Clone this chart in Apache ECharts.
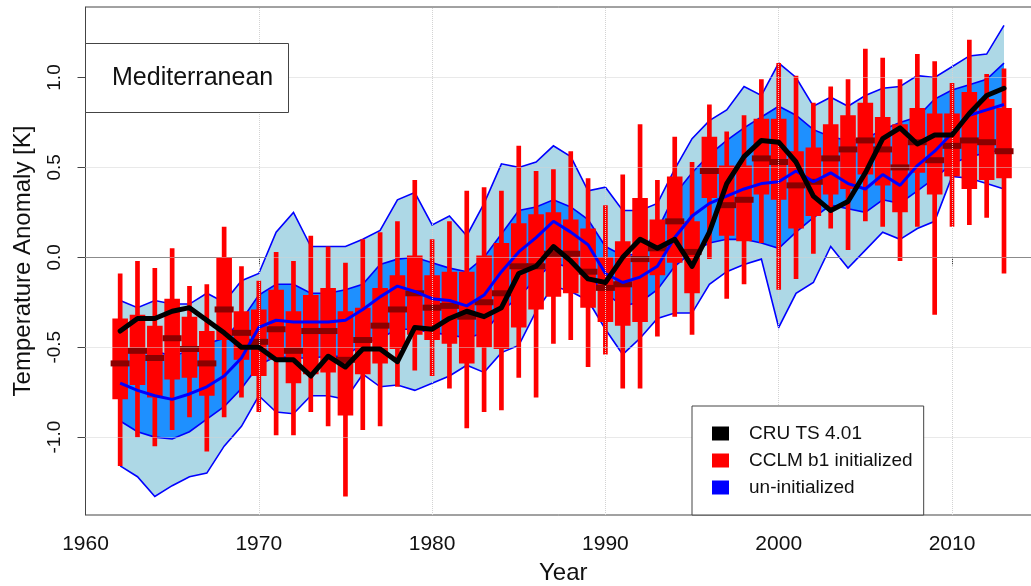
<!DOCTYPE html>
<html><head><meta charset="utf-8">
<script src="https://cdn.jsdelivr.net/npm/echarts@6.0.0/dist/echarts.min.js"></script>
<style>html,body{margin:0;padding:0;background:#fff}#c{width:1031px;height:586px}</style>
</head><body><div id="c"></div>
<script>
// ---- data ----
const years = [
  1962,1963,1964,1965,1966,1967,1968,1969,1970,1971,
  1972,1973,1974,1975,1976,1977,1978,1979,1980,1981,
  1982,1983,1984,1985,1986,1987,1988,1989,1990,1991,
  1992,1993,1994,1995,1996,1997,1998,1999,2000,2001,
  2002,2003,2004,2005,2006,2007,2008,2009,2010,2011,
  2012,2013];
const cruValues = [
  -0.41,-0.34,-0.34,-0.30,-0.28,-0.35,-0.42,-0.50,-0.50,-0.57,
  -0.57,-0.66,-0.55,-0.61,-0.51,-0.51,-0.58,-0.39,-0.40,-0.34,
  -0.30,-0.33,-0.28,-0.09,-0.05,0.06,-0.02,-0.12,-0.14,0.00,
  0.10,0.05,0.10,-0.05,0.14,0.41,0.56,0.65,0.64,0.53,
  0.34,0.26,0.31,0.47,0.66,0.72,0.63,0.68,0.68,0.80,
  0.90,0.94];
const boxLow = [
  -1.16,-1.00,-1.05,-0.96,-0.89,-1.08,-0.89,-0.78,-0.86,-0.99,
  -0.99,-0.86,-0.94,-1.33,-0.96,-0.94,-0.72,-0.63,-0.66,-0.73,
  -0.95,-0.86,-0.85,-0.67,-0.78,-0.48,-0.46,-0.61,-0.54,-0.73,
  -0.73,-0.44,-0.33,-0.43,-0.01,-0.23,-0.15,0.08,-0.18,-0.12,
  0.02,0.16,0.04,0.20,0.17,-0.02,0.17,-0.32,0.17,0.18,
  0.22,-0.09];
const boxQ1 = [
  -0.79,-0.71,-0.78,-0.68,-0.67,-0.77,-0.46,-0.57,-0.66,-0.57,
  -0.70,-0.65,-0.64,-0.88,-0.65,-0.59,-0.51,-0.43,-0.46,-0.48,
  -0.59,-0.50,-0.51,-0.39,-0.29,-0.22,-0.20,-0.28,-0.36,-0.38,
  -0.36,-0.10,-0.03,-0.20,0.33,0.12,0.09,0.35,0.32,0.16,
  0.23,0.35,0.38,0.46,0.40,0.25,0.47,0.35,0.45,0.38,
  0.43,0.44];
const boxMedian = [
  -0.59,-0.52,-0.56,-0.45,-0.51,-0.59,-0.29,-0.42,-0.47,-0.40,
  -0.52,-0.41,-0.41,-0.57,-0.46,-0.38,-0.29,-0.20,-0.28,-0.27,
  -0.33,-0.25,-0.20,-0.05,-0.05,0.02,0.02,-0.08,-0.17,-0.15,
  -0.01,0.05,0.20,0.03,0.48,0.29,0.32,0.55,0.53,0.40,
  0.42,0.55,0.60,0.65,0.60,0.50,0.64,0.54,0.62,0.65,
  0.64,0.59];
const boxQ3 = [
  -0.34,-0.32,-0.38,-0.23,-0.33,-0.41,0.00,-0.30,-0.29,-0.18,
  -0.30,-0.21,-0.17,-0.30,-0.28,-0.17,-0.10,0.01,-0.10,-0.08,
  -0.08,0.01,0.08,0.19,0.24,0.25,0.21,0.16,0.00,0.09,
  0.33,0.21,0.45,0.20,0.67,0.51,0.51,0.77,0.77,0.59,
  0.61,0.74,0.79,0.86,0.78,0.74,0.83,0.80,0.80,0.92,
  0.88,0.83];
const boxHigh = [
  -0.09,-0.02,-0.06,0.05,-0.16,-0.15,0.17,-0.05,-0.13,0.03,
  -0.02,0.12,0.06,-0.03,0.10,0.14,0.20,0.43,0.10,0.20,
  0.37,0.39,0.37,0.62,0.48,0.49,0.59,0.44,0.29,0.46,
  0.74,0.43,0.67,0.53,0.85,0.70,0.79,0.99,1.08,1.01,
  0.86,0.95,0.99,1.16,1.11,0.99,1.13,1.09,0.97,1.21,
  1.02,1.05];
const uninitMedian = [
  -0.70,-0.74,-0.77,-0.79,-0.76,-0.72,-0.66,-0.56,-0.39,-0.35,
  -0.36,-0.36,-0.36,-0.35,-0.29,-0.22,-0.16,-0.19,-0.23,-0.24,
  -0.27,-0.21,-0.08,0.03,0.11,0.20,0.14,0.07,-0.09,-0.14,
  -0.11,-0.05,0.11,0.23,0.30,0.34,0.38,0.41,0.42,0.48,
  0.42,0.47,0.41,0.38,0.46,0.40,0.51,0.59,0.69,0.79,
  0.82,0.85];
const uninitInnerHigh = [
  -0.50,-0.52,-0.52,-0.55,-0.52,-0.48,-0.45,-0.35,-0.21,-0.15,
  -0.15,-0.20,-0.20,-0.18,-0.15,-0.04,-0.01,0.00,-0.03,-0.06,
  -0.08,0.00,0.13,0.26,0.28,0.32,0.28,0.21,0.06,0.01,
  0.02,0.15,0.35,0.47,0.57,0.65,0.72,0.78,0.84,0.79,
  0.71,0.67,0.65,0.66,0.71,0.75,0.78,0.88,0.93,0.96,
  0.99,1.08];
const uninitInnerLow = [
  -0.91,-0.97,-1.00,-1.01,-0.97,-0.90,-0.83,-0.73,-0.60,-0.55,
  -0.56,-0.56,-0.55,-0.55,-0.48,-0.45,-0.40,-0.40,-0.42,-0.43,
  -0.45,-0.42,-0.30,-0.22,-0.12,-0.03,-0.06,-0.10,-0.20,-0.27,
  -0.25,-0.18,-0.05,0.03,0.08,0.10,0.10,0.08,0.05,0.14,
  0.22,0.29,0.27,0.25,0.32,0.30,0.37,0.44,0.52,0.56,
  0.58,0.60];
const uninitOuterHigh = [
  -0.24,-0.28,-0.24,-0.26,-0.26,-0.20,-0.25,-0.13,-0.09,0.14,
  0.25,0.06,0.06,0.06,0.10,0.15,0.32,0.36,0.18,0.23,
  0.12,0.30,0.52,0.50,0.53,0.62,0.56,0.37,0.39,0.26,
  0.26,0.30,0.49,0.66,0.76,0.82,0.95,0.90,1.08,1.00,
  0.84,0.89,0.84,0.90,0.94,0.95,1.01,1.00,1.06,1.12,
  1.13,1.29];
const uninitOuterLow = [
  -1.16,-1.22,-1.33,-1.27,-1.22,-1.20,-1.05,-0.94,-0.77,-0.86,
  -0.87,-0.77,-0.77,-0.79,-0.65,-0.72,-0.71,-0.74,-0.70,-0.66,
  -0.60,-0.64,-0.53,-0.49,-0.30,-0.16,-0.19,-0.24,-0.40,-0.54,
  -0.45,-0.34,-0.31,-0.31,-0.15,-0.08,-0.04,-0.01,-0.39,-0.20,
  -0.14,0.06,-0.06,0.04,0.14,0.10,0.16,0.20,0.45,0.44,
  0.41,0.38];
const xTicks = [1960,1970,1980,1990,2000,2010];
const yTicks = [-1.0,-0.5,0.0,0.5,1.0];
const seriesNames = ['CRU TS 4.01','CCLM b1 initialized','un-initialized'];

// ---- chart ----
const FONT = 'Liberation Sans, Arial, sans-serif';
const chart = echarts.init(document.getElementById('c'), null, {renderer:'canvas'});

function bandSeries(low, high, fill, z) {
  return {
    type:'custom', name:'band', silent:true, z:z, clip:true,
    coordinateSystem:'cartesian2d',
    data: years.map((y,i)=>[y, low[i], high[i]]),
    encode:{x:0, y:[1,2]},
    renderItem:function(params, api){
      if (params.dataIndex !== 0) return null;
      const top = years.map((y,i)=>api.coord([y, high[i]]));
      const bot = years.map((y,i)=>api.coord([y, low[i]]));
      return {type:'group', children:[
        {type:'polygon', shape:{points: top.concat(bot.slice().reverse())}, style:{fill:fill, stroke:null}},
        {type:'polyline', shape:{points: top}, style:{stroke:'#0000FF', lineWidth:1.6, fill:null}},
        {type:'polyline', shape:{points: bot}, style:{stroke:'#0000FF', lineWidth:1.6, fill:null}}
      ]};
    }
  };
}

const option = {
  animation:false,
  backgroundColor:'#fff',
  textStyle:{fontFamily:FONT},
  title:{
    text:'Mediterranean', left:85, top:43, z:20,
    padding:[23,16,22,27], borderColor:'#444', borderWidth:1, backgroundColor:'#fff',
    textStyle:{fontSize:25, fontWeight:'normal', color:'#111', fontFamily:FONT}
  },
  legend:{
    orient:'vertical', left:692, top:406, z:20,
    padding:[18,11,18,20], itemWidth:17, itemHeight:14, itemGap:8,
    borderColor:'#444', borderWidth:1, backgroundColor:'#fff',
    textStyle:{fontSize:19, color:'#111', fontFamily:FONT, padding:[0,0,0,15]},
    data:[
      {name:seriesNames[0], icon:'rect', itemStyle:{color:'#000000'}},
      {name:seriesNames[1], icon:'rect', itemStyle:{color:'#FF0000'}},
      {name:seriesNames[2], icon:'rect', itemStyle:{color:'#0000FF'}}
    ],
    selectedMode:false
  },
  grid:{left:85.5, top:7, right:-10, bottom:71, show:true, borderColor:'#444', borderWidth:1,
        backgroundColor:'transparent', outerBoundsMode:'none', containLabel:false},
  xAxis:{
    type:'value', min:1960, max:2015.135, interval:10,
    name:'Year', nameLocation:'middle', nameGap:46,
    nameTextStyle:{fontSize:24, color:'#111', fontFamily:FONT},
    axisLine:{show:true, lineStyle:{color:'#444', width:1}},
    axisTick:{show:true, length:8, lineStyle:{color:'#444'}},
    axisLabel:{fontSize:21, color:'#111', margin:19, fontFamily:FONT, showMaxLabel:false,
      formatter:function(v){ return xTicks.indexOf(v) >= 0 ? String(v) : ''; }},
    splitLine:{show:false}
  },
  yAxis:{
    type:'value', min:-1.433, max:1.392,
    name:'Temperature Anomaly [K]', nameLocation:'middle', nameGap:50, nameRotate:90,
    nameTextStyle:{fontSize:24, color:'#111', fontFamily:FONT},
    axisLine:{show:true, lineStyle:{color:'#444', width:1}},
    axisTick:{show:true, length:8, customValues:yTicks, lineStyle:{color:'#444'}},
    axisLabel:{fontSize:19, color:'#111', rotate:90, margin:21, customValues:yTicks, fontFamily:FONT,
      formatter:function(v){ return v.toFixed(1); }},
    splitLine:{show:false}
  },
  series:[
    bandSeries(uninitOuterLow, uninitOuterHigh, '#ADD8E6', 1),
    bandSeries(uninitInnerLow, uninitInnerHigh, '#1E90FF', 2),
    {
      type:'custom', name:seriesNames[1], z:3, clip:true,
      coordinateSystem:'cartesian2d',
      itemStyle:{color:'#FF0000'},
      data: years.map((y,i)=>[y, boxLow[i], boxQ1[i], boxMedian[i], boxQ3[i], boxHigh[i]]),
      encode:{x:0, y:[1,2,3,4,5]},
      renderItem:function(params, api){
        const x = api.value(0);
        const lo = api.coord([x, api.value(1)]);
        const q1 = api.coord([x, api.value(2)]);
        const md = api.coord([x, api.value(3)]);
        const q3 = api.coord([x, api.value(4)]);
        const hi = api.coord([x, api.value(5)]);
        const bw = api.size([0.9,0])[0], ww = api.size([0.27,0])[0], mw = api.size([1.1,0])[0];
        return {type:'group', children:[
          {type:'rect', shape:{x:lo[0]-ww/2, y:hi[1], width:ww, height:lo[1]-hi[1]}, style:{fill:'#FF0000'}},
          {type:'rect', shape:{x:q3[0]-bw/2, y:q3[1], width:bw, height:q1[1]-q3[1]}, style:{fill:'#FF0000'}},
          {type:'rect', shape:{x:md[0]-mw/2, y:md[1]-3, width:mw, height:6}, style:{fill:'#8B0000'}}
        ]};
      }
    },
    {
      type:'line', name:seriesNames[2], z:4, symbol:'none', silent:true,
      data: years.map((y,i)=>[y, uninitMedian[i]]),
      lineStyle:{color:'#0000FF', width:3}, itemStyle:{color:'#0000FF'}
    },
    {
      type:'line', name:seriesNames[0], z:5, symbol:'none', silent:true,
      data: years.map((y,i)=>[y, cruValues[i]]),
      lineStyle:{color:'#000000', width:5, join:'round', cap:'round'}, itemStyle:{color:'#000000'}
    },
    {
      type:'line', name:'grid', z:6, symbol:'none', silent:true,
      data:[[1960, 0]], lineStyle:{opacity:0},
      markLine:{
        silent:true, symbol:['none','none'], label:{show:false}, animation:false,
        lineStyle:{color:'#D3D3D3', type:'dotted', width:1},
        data: xTicks.slice(1).map(v=>({xAxis:v})).concat(yTicks.map(v=>({yAxis:v})))
      }
    }
  ]
};
chart.setOption(option);
</script>
</body></html>
